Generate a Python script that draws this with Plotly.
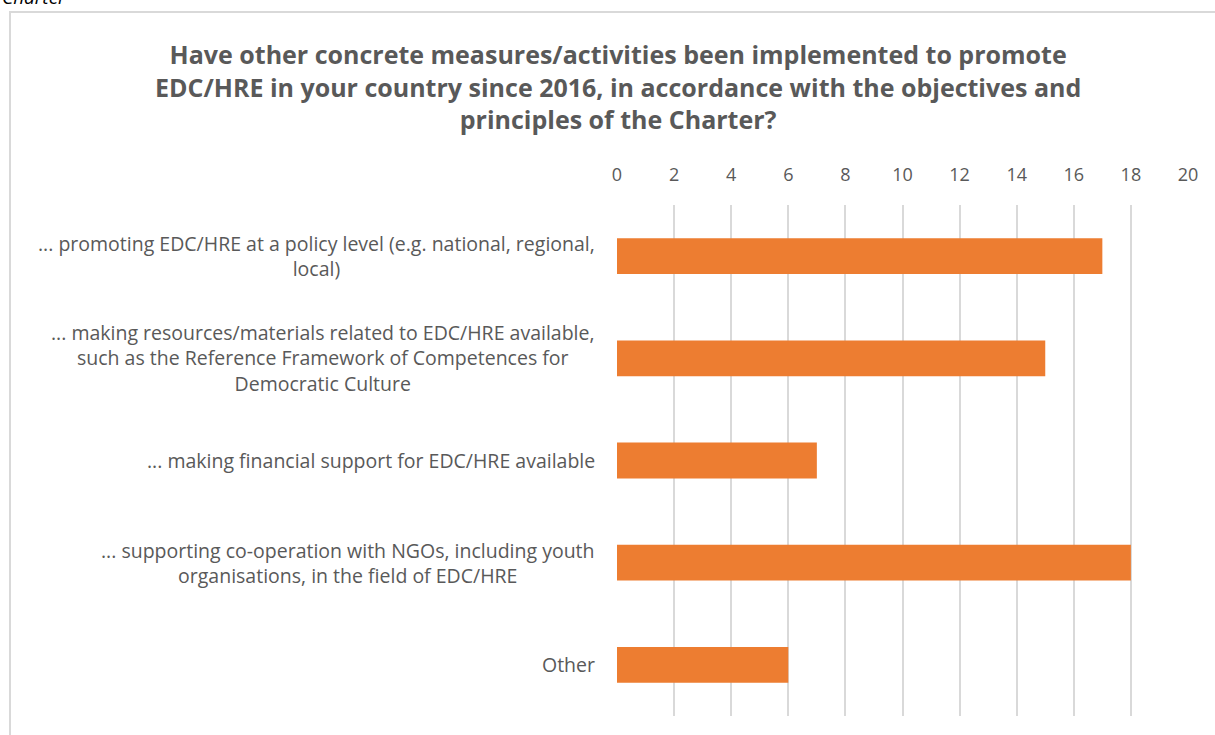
import plotly.graph_objects as go

categories = [
    "... promoting EDC/HRE at a policy level (e.g. national, regional,<br>local)",
    "... making resources/materials related to EDC/HRE available,<br>such as the Reference Framework of Competences for<br>Democratic Culture",
    "... making financial support for EDC/HRE available",
    "... supporting co-operation with NGOs, including youth<br>organisations, in the field of EDC/HRE",
    "Other",
]
values = [17, 15, 7, 18, 6]
tick_values = [0, 2, 4, 6, 8, 10, 12, 14, 16, 18, 20]

W, H = 1215, 735
L, R, T, B = 617, 27, 205, 19
pw, ph = W - L - R, H - T - B

FONT = "Open Sans"
GREY = "#595959"


def py(px):
    """Convert a pixel row (from the top) to paper y."""
    return (H - B - px) / ph


def pxx(px):
    """Convert a pixel column (from the left) to paper x."""
    return (px - L) / pw


fig = go.Figure(go.Bar(
    x=values, y=categories, orientation="h",
    marker=dict(color="#ED7D31", line=dict(width=0)),
    width=0.35,
))

fig.update_layout(
    width=W, height=H,
    margin=dict(l=L, r=R, t=T, b=B),
    paper_bgcolor="white", plot_bgcolor="white",
    showlegend=False,
    font=dict(family=FONT, color=GREY),
    xaxis=dict(
        side="top", range=[0, 20], tickvals=tick_values,
        showgrid=True, gridcolor="#d9d9d9", gridwidth=1.5,
        zeroline=False, showline=False,
        ticks="outside", ticklen=16, tickcolor="rgba(0,0,0,0)",
        tickfont=dict(size=18, color=GREY, family=FONT),
        fixedrange=True,
    ),
    yaxis=dict(
        categoryorder="array", categoryarray=categories,
        autorange="reversed", showticklabels=False,
        showgrid=False, zeroline=False, showline=False, ticks="",
    ),
)

# category labels, centred text blocks right-aligned against the axis
for cat in categories:
    fig.add_annotation(
        x=0, xref="paper", xanchor="right", xshift=-20,
        y=cat, yref="y", yanchor="middle",
        text=cat, showarrow=False, align="center",
        font=dict(size=19.5, color=GREY, family=FONT),
    )

# chart title
fig.add_annotation(
    x=pxx(618), xref="paper", xanchor="center",
    y=py(87), yref="paper", yanchor="middle",
    text="Have other concrete measures/activities been implemented to promote<br>"
         "EDC/HRE in your country since 2016, in accordance with the objectives and<br>"
         "principles of the Charter?",
    showarrow=False, align="center",
    font=dict(size=25, color=GREY, family=FONT, weight="bold"),
)

# caption fragment above the chart frame
fig.add_annotation(
    x=pxx(0), xref="paper", xanchor="left",
    y=py(-3), yref="paper", yanchor="middle",
    text="<i>Charter</i>", showarrow=False,
    font=dict(size=19, color="#000000", family=FONT),
)

# chart frame
fig.add_shape(
    type="rect", xref="paper", yref="paper",
    x0=pxx(10), x1=pxx(W + 20),
    y0=py(H + 20), y1=py(12),
    line=dict(color="#d9d9d9", width=2), fillcolor="rgba(0,0,0,0)",
    layer="below",
)

fig.write_html("out.html")
